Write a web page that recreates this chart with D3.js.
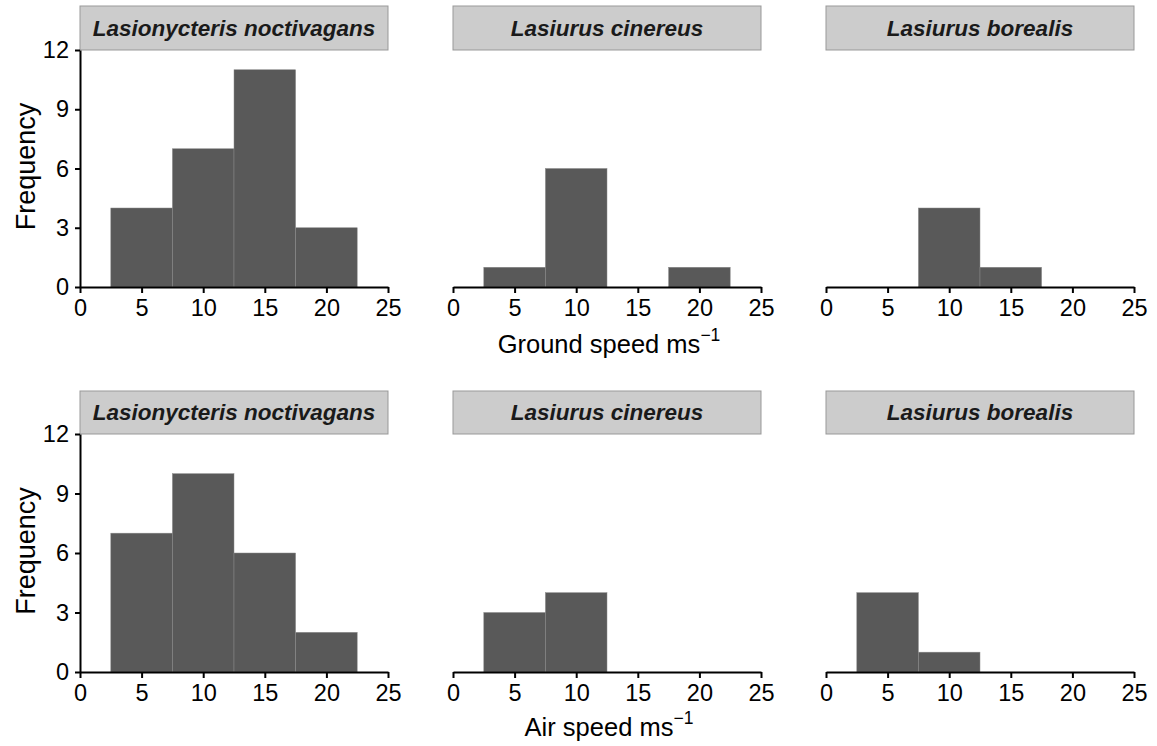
<!DOCTYPE html>
<html><head><meta charset="utf-8">
<script src="https://cdn.jsdelivr.net/npm/d3@7"></script>
<style>body{margin:0;background:#fff}svg{display:block}text{font-family:"Liberation Sans",Arial,sans-serif}</style>
</head><body>
<svg id="c" width="1157" height="746"></svg>
<script>
const species = ["Lasionycteris noctivagans", "Lasiurus cinereus", "Lasiurus borealis"];
const binCenters = [5, 10, 15, 20];
const groundSpeed = [[4, 7, 11, 3], [1, 6, 0, 1], [0, 4, 1, 0]];
const airSpeed = [[7, 10, 6, 2], [3, 4, 0, 0], [4, 1, 0, 0]];
const xTicks = [0, 5, 10, 15, 20, 25];
const yTicks = [0, 3, 6, 9, 12];
const rowTitles = ["Ground speed ms", "Air speed ms"];

const svg = d3.select("#c");
const panelLeft = [80, 453, 826], panelW = 308;
const rows = [{top: 50, bottom: 287, data: groundSpeed, stripTop: 6, titleOff: 66},
              {top: 434, bottom: 672, data: airSpeed, stripTop: 391, titleOff: 64}];

rows.forEach((row, ri) => {
  const y = d3.scaleLinear().domain([0, 12]).range([row.bottom, row.top]);
  species.forEach((sp, ci) => {
    const x = d3.scaleLinear().domain([0, 25]).range([panelLeft[ci], panelLeft[ci] + panelW]);
    const g = svg.append("g");
    // strip
    g.append("rect").attr("x", panelLeft[ci]).attr("y", row.stripTop)
      .attr("width", panelW).attr("height", row.top - row.stripTop)
      .attr("fill", "#cccccc").attr("stroke", "#999").attr("stroke-width", 1);
    g.append("text").attr("x", panelLeft[ci] + panelW / 2).attr("y", (row.stripTop + row.top) / 2)
      .attr("dy", "0.35em").attr("text-anchor", "middle")
      .attr("font-size", 22.5).attr("font-weight", "bold").attr("font-style", "italic")
      .attr("fill", "#1a1a1a").text(sp);
    // bars
    g.selectAll("rect.bar").data(binCenters.map((c, i) => ({c, v: row.data[ci][i]})).filter(d => d.v > 0))
      .join("rect").attr("class", "bar")
      .attr("x", d => x(d.c - 2.5)).attr("width", d => x(d.c + 2.5) - x(d.c - 2.5))
      .attr("y", d => y(d.v)).attr("height", d => y(0) - y(d.v))
      .attr("fill", "#595959").attr("stroke", "#8a8a8a").attr("stroke-width", 0.5);
    // x axis
    const xa = g.append("g").attr("transform", `translate(0,${row.bottom})`)
      .call(d3.axisBottom(x).tickValues(xTicks).tickSize(6).tickPadding(6).tickSizeOuter(0));
    xa.select(".domain").attr("stroke-width", 2);
    xa.selectAll(".tick line").attr("stroke-width", 2);
    xa.selectAll("text").attr("font-size", 23.5).attr("fill", "#000");
    if (ci === 0) {
      const ya = g.append("g").attr("transform", `translate(${panelLeft[ci]},0)`)
        .call(d3.axisLeft(y).tickValues(yTicks).tickSize(5).tickPadding(6).tickSizeOuter(0));
      ya.select(".domain").attr("stroke-width", 2);
      ya.selectAll(".tick line").attr("stroke-width", 2);
      ya.selectAll("text").attr("font-size", 23.5).attr("fill", "#000");
    }
  });
  // y title
  svg.append("text").attr("transform", `translate(35,${(row.top + row.bottom) / 2 - 2}) rotate(-90)`)
    .attr("text-anchor", "middle").attr("font-size", 27).text("Frequency");
  // x title
  const t = svg.append("text").attr("x", panelLeft[1] + panelW / 2 + 2).attr("y", row.bottom + row.titleOff)
    .attr("text-anchor", "middle").attr("font-size", 25.5);
  t.append("tspan").text(rowTitles[ri]);
  t.append("tspan").attr("dy", -12).attr("font-size", 17.5).text("\u22121");
});
</script>
</body></html>
